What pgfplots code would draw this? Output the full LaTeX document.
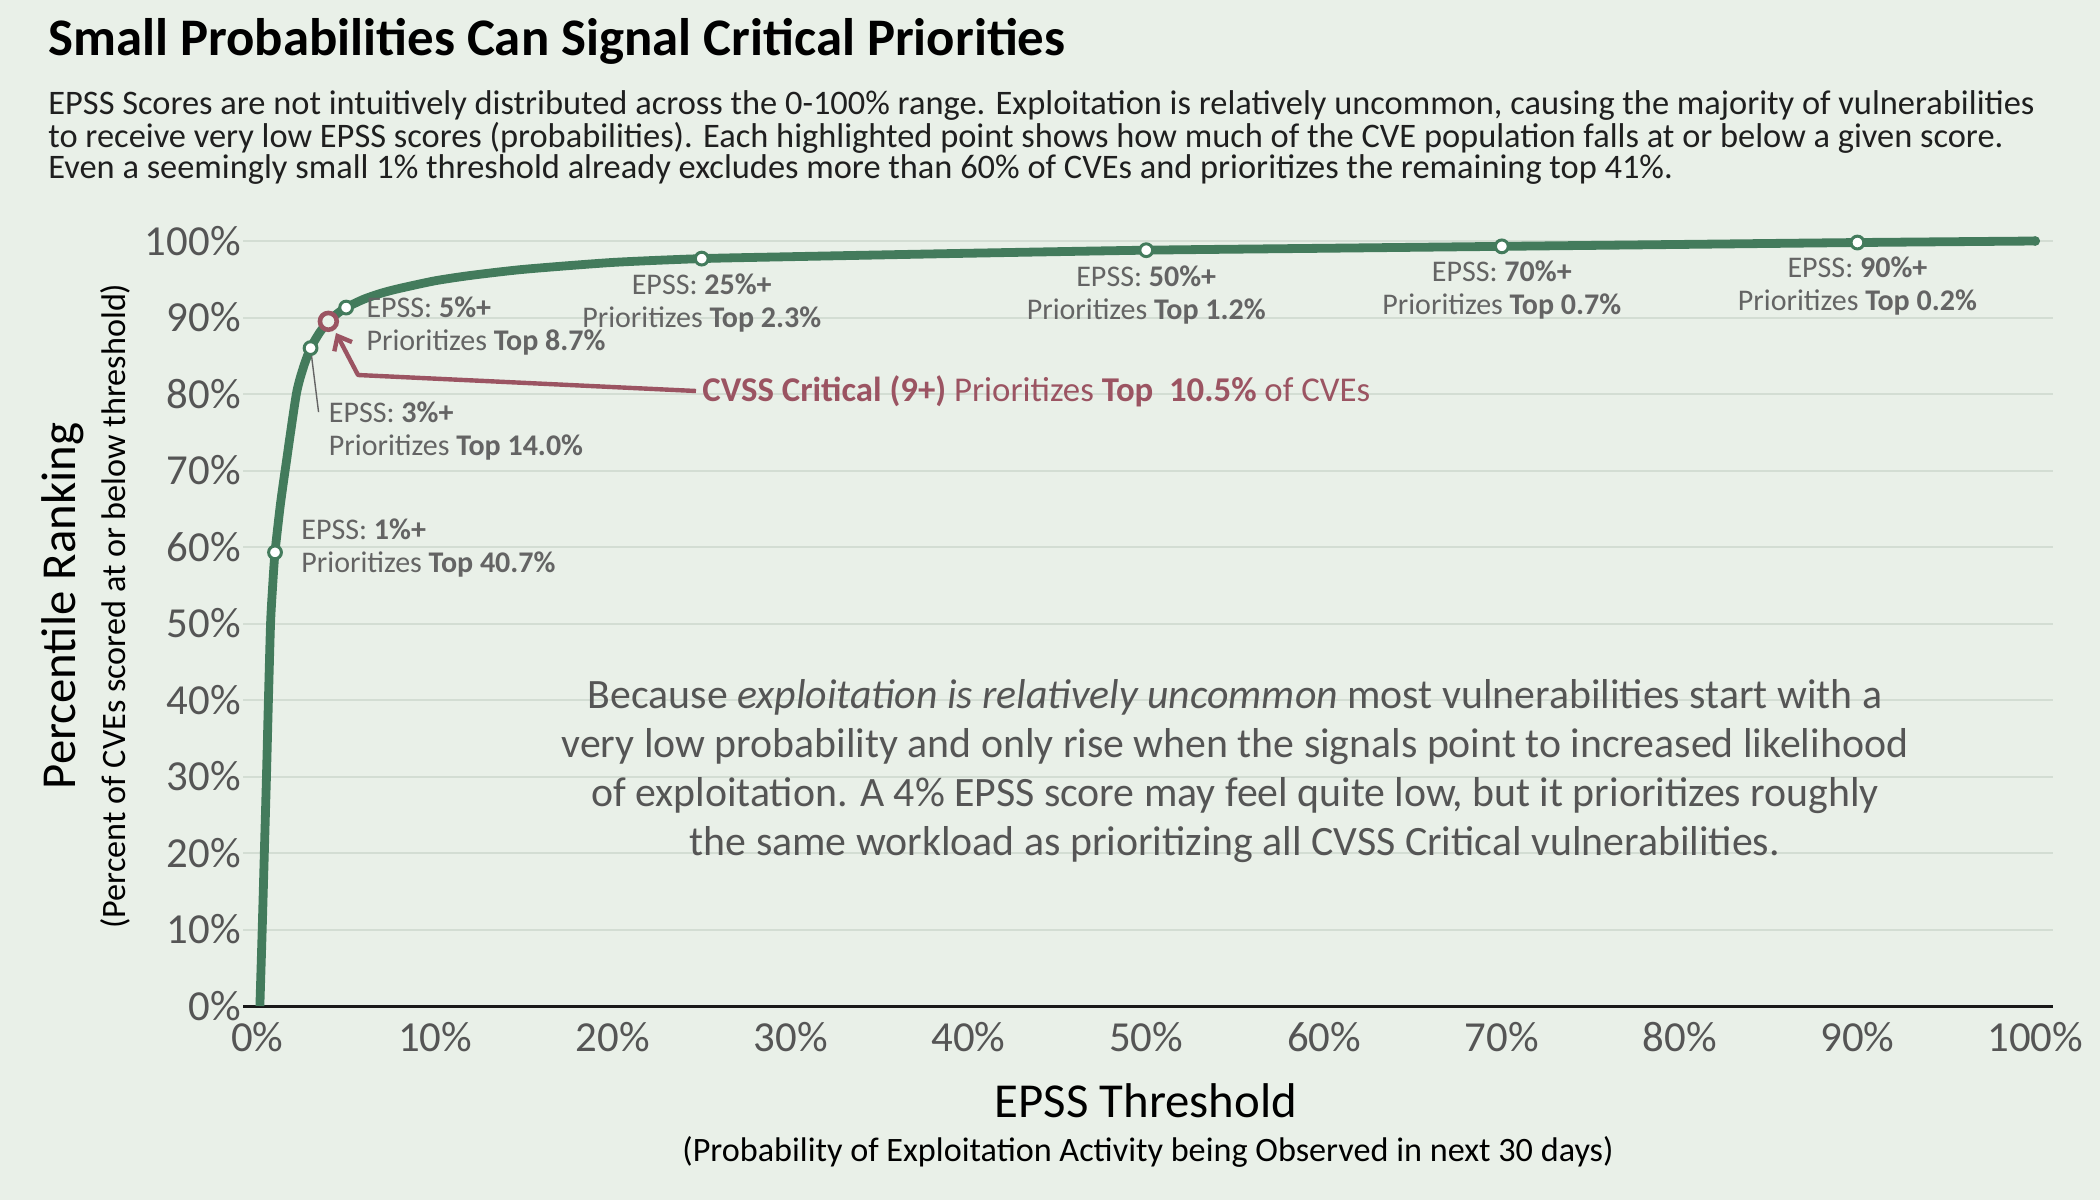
\documentclass[border=0pt]{standalone}
\usepackage{pgfplots}
\pgfplotsset{compat=1.18}
\usepackage{fontspec}
\setmainfont{Carlito}
\usetikzlibrary{arrows.meta}

\definecolor{bg}{HTML}{E9F0E8}
\definecolor{curvegreen}{HTML}{437B5C}
\definecolor{gridc}{HTML}{D3DDD3}
\definecolor{tickc}{HTML}{555555}
\definecolor{notec}{HTML}{646464}
\definecolor{crit}{HTML}{9B5462}
\definecolor{bodyc}{HTML}{555555}

% cumulative share of CVEs at or below each EPSS threshold
\pgfplotstableread{
x y
0.15 0
0.28 10
0.40 20
0.52 30
0.63 40
0.75 50
0.87 55
1.00 59.3
1.30 65.5
1.60 70.5
2.20 80
2.60 83.5
3.00 86.0
3.50 88.0
4.00 89.5
4.50 90.5
5.00 91.3
6 92.4
7 93.2
8 93.8
10 94.8
12 95.5
15 96.3
20 97.2
25 97.7
30 97.95
40 98.4
50 98.8
60 99.05
70 99.3
80 99.55
90 99.8
100 100
}\curvedata

\tikzset{
  annot/.style={font=\fontsize{15}{16.5}\selectfont, text=notec, inner sep=0pt},
}

\begin{document}
\begin{tikzpicture}
\begin{scope}[x=0.5pt,y=-0.5pt]
  \fill[bg] (0,0) rectangle (2100,1200);
\end{scope}

\begin{axis}[
  at={(121.5pt,-503pt)}, anchor=south west,
  scale only axis, width=905pt, height=382.5pt,
  xmin=-0.8, xmax=101, ymin=0, ymax=100,
  clip=false,
  axis line style={draw=none},
  major tick length=0pt,
  xtick={0,10,...,100}, ytick={0,10,...,100},
  xticklabel={\pgfmathprintnumber{\tick}\%},
  yticklabel={\pgfmathprintnumber{\tick}\%},
  /pgf/number format/assume math mode=true,
  ticklabel style={font=\fontsize{21.4}{25}\selectfont, text=tickc},
  xticklabel style={yshift=-4.5pt},
  yticklabel style={inner xsep=1pt},
  ymajorgrids, grid style={gridc, line width=1pt},
]
\draw[black!90, line width=1.5pt] (rel axis cs:0,0) -- (rel axis cs:1,0);

\addplot[curvegreen, line width=4.4pt, smooth, tension=0.4] table[x=x,y=y] {\curvedata};
% rounded end of the curve
\addplot[curvegreen, only marks, mark=*, mark size=2.2pt, mark options={fill=curvegreen, draw=none}]
  coordinates {(100,100)};

% leader line for the 3% label
\draw[notec, line width=0.7pt] (axis cs:3,86) ++(0.5pt,-4pt) -- ++(3.5pt,-28pt);

\addplot[only marks, mark=*, mark size=3.2pt,
  mark options={fill=white, draw=curvegreen, line width=1.5pt}]
  coordinates {(1,59.3) (3,86.0) (5,91.3) (25,97.7) (50,98.8) (70,99.3) (90,99.8)};
\addplot[only marks, mark=*, mark size=4.2pt,
  mark options={fill=bg, draw=crit, line width=2.3pt}]
  coordinates {(4,89.5)};

\node[annot, anchor=west, align=left, xshift=13pt, yshift=2pt] at (axis cs:1,59.3)
  {EPSS: \textbf{1\%+}\\Prioritizes \textbf{Top 40.7\%}};
\node[annot, anchor=west, align=left, xshift=9pt, yshift=-41.5pt] at (axis cs:3,86)
  {EPSS: \textbf{3\%+}\\Prioritizes \textbf{Top 14.0\%}};
\node[annot, anchor=west, align=left, xshift=10pt, yshift=-9pt] at (axis cs:5,91.3)
  {EPSS: \textbf{5\%+}\\Prioritizes \textbf{Top 8.7\%}};
\node[annot, align=center, yshift=-22pt] at (axis cs:25,97.7)
  {EPSS: \textbf{25\%+}\\Prioritizes \textbf{Top 2.3\%}};
\node[annot, align=center, yshift=-22.5pt] at (axis cs:50,98.8)
  {EPSS: \textbf{50\%+}\\Prioritizes \textbf{Top 1.2\%}};
\node[annot, align=center, yshift=-22pt] at (axis cs:70,99.3)
  {EPSS: \textbf{70\%+}\\Prioritizes \textbf{Top 0.7\%}};
\node[annot, align=center, yshift=-21.5pt] at (axis cs:90,99.8)
  {EPSS: \textbf{90\%+}\\Prioritizes \textbf{Top 0.2\%}};
\end{axis}

\begin{scope}[x=0.5pt,y=-0.5pt]
  % title and description
  \node[anchor=west, inner sep=0pt, font=\fontsize{26.4}{30}\selectfont\bfseries] at (48,41)
    {Small Probabilities Can Signal Critical Priorities};
  \begin{scope}[every node/.style={anchor=west, inner sep=0pt, text=black!88, font=\fontsize{17.2}{19}\selectfont}]
    \node at (48,106) {EPSS Scores are not intuitively distributed across the 0-100\% range. Exploitation is relatively uncommon, causing the majority of vulnerabilities};
    \node at (48,138) {to receive very low EPSS scores (probabilities). Each highlighted point shows how much of the CVE population falls at or below a given score.};
    \node at (48,170) {Even a seemingly small 1\% threshold already excludes more than 60\% of CVEs and prioritizes the remaining top 41\%.};
  \end{scope}

  % axis titles
  \node[rotate=90, font=\fontsize{24.4}{28}\selectfont] at (63,606) {Percentile Ranking};
  \node[rotate=90, font=\fontsize{17.1}{20}\selectfont] at (115,606) {(Percent of CVEs scored at or below threshold)};
  \node[font=\fontsize{24.4}{28}\selectfont] at (1146,1101) {EPSS Threshold};
  \node[font=\fontsize{17.1}{20}\selectfont] at (1148,1152) {(Probability of Exploitation Activity being Observed in next 30 days)};

  % CVSS critical callout
  \draw[crit, line width=2.2pt, line join=round, -{Straight Barb[length=6pt,width=10pt,line width=2.2pt]}]
    (696,391) -- (358,375) -- (336,333);
  \node[anchor=west, inner sep=0pt, text=crit, font=\fontsize{17.4}{20}\selectfont] at (702,391)
    {\textbf{CVSS Critical (9+)} Prioritizes \textbf{Top\hspace{0.45em}10.5\%} of CVEs};

  % explanatory paragraph
  \node[align=center, text=bodyc, font=\fontsize{20.9}{24.5}\selectfont] at (1235,771)
    {Because \textit{exploitation is relatively uncommon} most vulnerabilities start with a\\
     very low probability and only rise when the signals point to increased likelihood\\
     of exploitation. A 4\% EPSS score may feel quite low, but it prioritizes roughly\\
     the same workload as prioritizing all CVSS Critical vulnerabilities.};

  \pgfresetboundingbox
  \path[use as bounding box] (0,0) rectangle (2100,1200);
\end{scope}
\end{tikzpicture}
\end{document}
